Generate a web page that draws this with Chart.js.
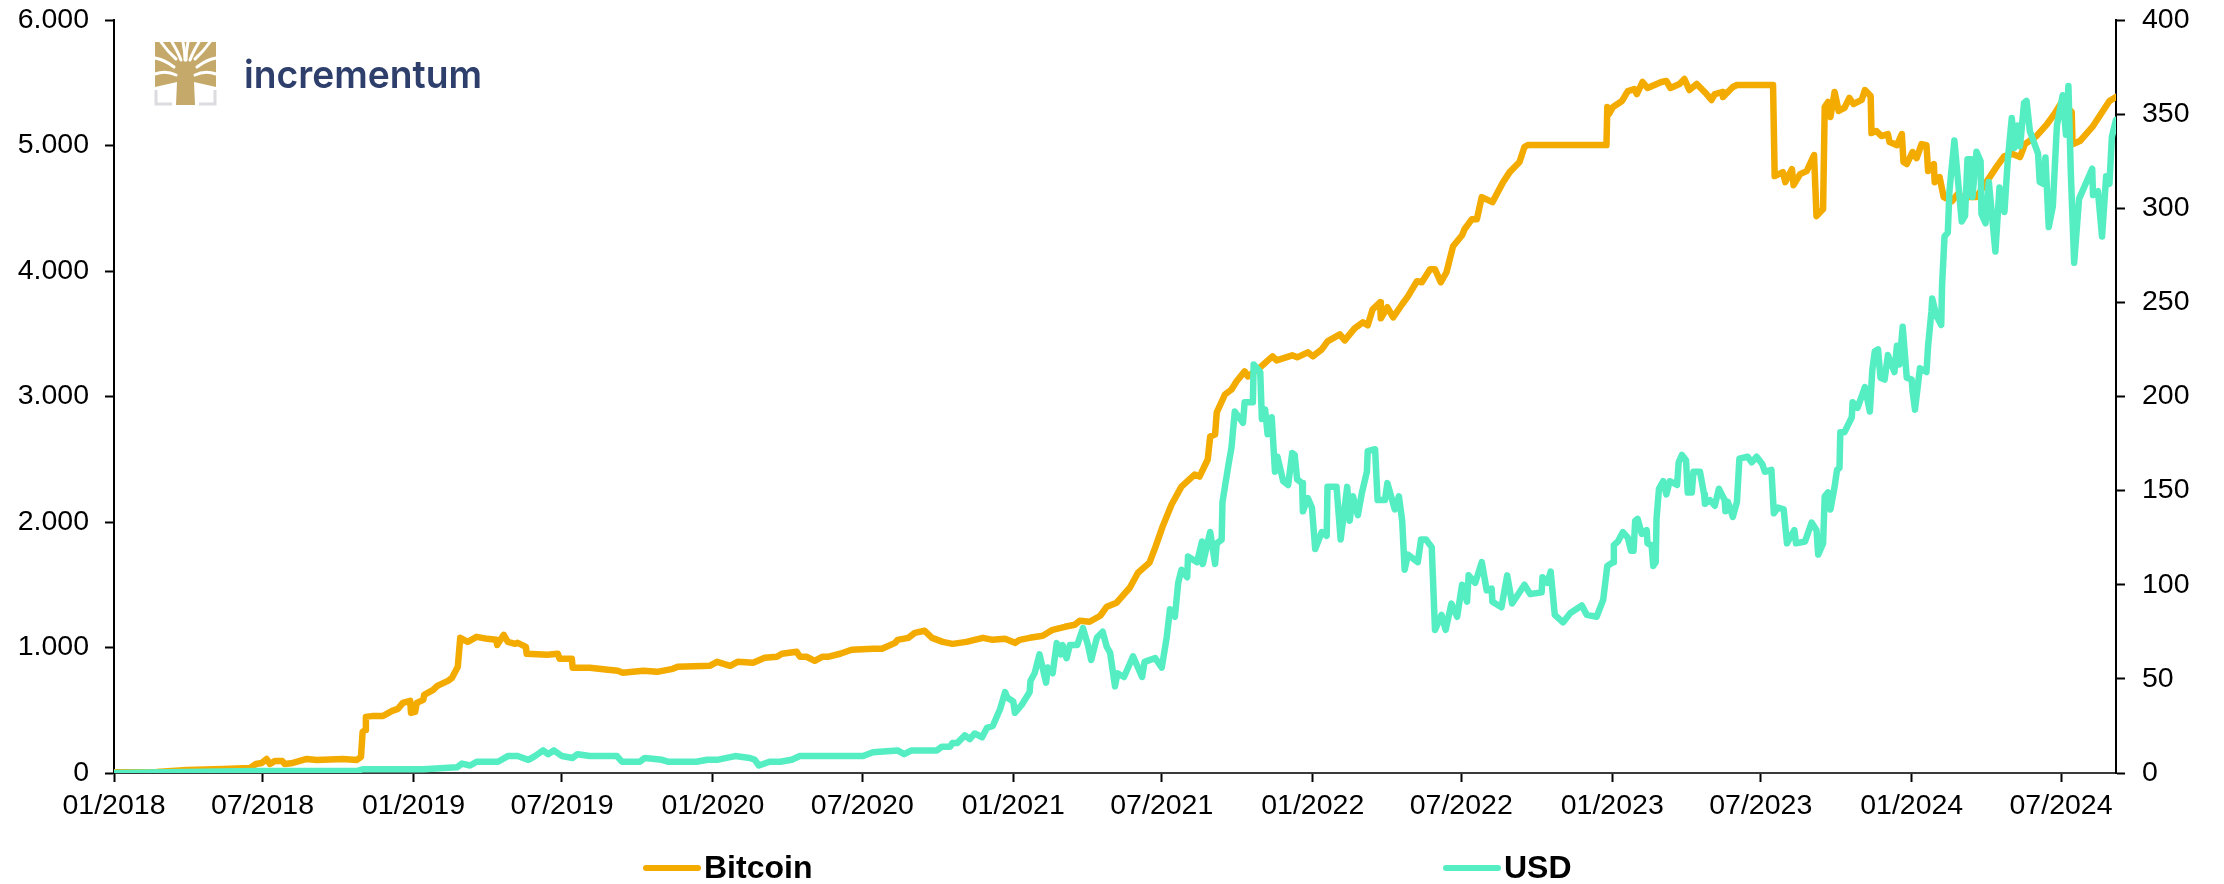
<!DOCTYPE html>
<html>
<head>
<meta charset="utf-8">
<title>Bitcoin vs USD</title>
<script src="https://cdn.jsdelivr.net/npm/chart.js@4"></script>
<style>
    html, body { margin: 0; padding: 0; background: #fff; }
    canvas { display: block; }
</style>
</head>
<body>
<canvas id="btcChart" width="2224" height="884"></canvas>
<script>
// x values are days since 01/01/2018
const xTickDays = [0, 181, 365, 546, 730, 912, 1096, 1277, 1461, 1642, 1826, 2007, 2191, 2373];
const xTickLabels = ["01/2018", "07/2018", "01/2019", "07/2019", "01/2020", "07/2020", "01/2021", "07/2021",
    "01/2022", "07/2022", "01/2023", "07/2023", "01/2024", "07/2024"];
const lastDay = 2440;

const btcDays = [0, 52, 89, 133, 166, 173, 180, 186, 190, 196, 205, 208, 218, 235, 247, 279, 296, 301, 303, 306,
    307, 316, 328, 339, 346, 352, 361, 362, 367, 369, 377, 378, 389, 394, 407, 412, 419, 422, 431, 442,
    455, 466, 467, 475, 480, 489, 492, 502, 503, 528, 541, 543, 558, 559, 580, 602, 614, 620, 645, 662,
    681, 687, 726, 735, 751, 760, 779, 793, 808, 814, 832, 836, 844, 854, 863, 870, 885, 899, 925, 936,
    952, 955, 968, 976, 988, 997, 1010, 1022, 1039, 1059, 1071, 1086, 1098, 1104, 1116, 1132, 1144, 1159, 1171, 1177,
    1189, 1202, 1210, 1222, 1238, 1248, 1262, 1269, 1278, 1289, 1301, 1317, 1323, 1333, 1336, 1342, 1344, 1354, 1362, 1368,
    1378, 1382, 1397, 1405, 1412, 1417, 1436, 1442, 1455, 1461, 1472, 1479, 1494, 1500, 1512, 1522, 1528, 1534, 1543, 1544,
    1552, 1559, 1570, 1577, 1588, 1594, 1604, 1610, 1617, 1624, 1632, 1643, 1646, 1655, 1661, 1667, 1680, 1693, 1701, 1713,
    1719, 1723, 1819, 1820, 1822, 1827, 1838, 1845, 1853, 1856, 1863, 1869, 1886, 1892, 1897, 1908, 1914, 1920, 1929, 1941,
    1947, 1951, 1960, 1961, 1973, 1978, 2022, 2024, 2034, 2037, 2045, 2047, 2055, 2063, 2072, 2075, 2083, 2085, 2089, 2092,
    2097, 2102, 2109, 2115, 2120, 2130, 2134, 2141, 2142, 2148, 2154, 2162, 2164, 2173, 2179, 2181, 2185, 2192, 2197, 2203,
    2209, 2211, 2218, 2219, 2225, 2230, 2240, 2247, 2253, 2270, 2282, 2295, 2304, 2314, 2323, 2329, 2343, 2356, 2365, 2374,
    2386, 2387, 2396, 2412, 2432, 2440];
const btcValues = [5, 8, 24, 32, 40, 72, 80, 112, 72, 96, 96, 72, 80, 112, 104, 112, 104, 128, 327, 343,
    447, 455, 455, 495, 511, 559, 575, 479, 487, 559, 583, 622, 662, 694, 734, 758, 846, 1077, 1045, 1085,
    1069, 1061, 1021, 1101, 1045, 1029, 1037, 1005, 950, 942, 950, 910, 910, 838, 838, 822, 814, 798, 814, 806,
    830, 846, 854, 886, 854, 886, 878, 918, 926, 950, 966, 926, 926, 894, 926, 926, 950, 982, 990, 990,
    1037, 1061, 1077, 1117, 1133, 1077, 1045, 1029, 1045, 1077, 1061, 1069, 1037, 1061, 1077, 1093, 1141, 1165, 1181, 1213,
    1205, 1253, 1325, 1357, 1476, 1596, 1676, 1796, 1963, 2139, 2282, 2378, 2362, 2498, 2681, 2697, 2873, 3016, 3056, 3120,
    3200, 3160, 3232, 3280, 3320, 3288, 3328, 3312, 3352, 3320, 3376, 3439, 3495, 3447, 3543, 3591, 3567, 3695, 3751, 3623,
    3711, 3631, 3735, 3798, 3918, 3910, 4014, 4014, 3910, 3990, 4197, 4285, 4333, 4413, 4413, 4589, 4549, 4708, 4788, 4868,
    4988, 5003, 5003, 5307, 5251, 5307, 5355, 5434, 5450, 5410, 5506, 5458, 5506, 5514, 5458, 5490, 5530, 5442, 5490, 5410,
    5363, 5410, 5426, 5387, 5466, 5482, 5482, 4756, 4788, 4708, 4812, 4684, 4772, 4796, 4924, 4437, 4493, 5307, 5347, 5227,
    5426, 5275, 5299, 5379, 5331, 5363, 5442, 5394, 5099, 5115, 5075, 5091, 5027, 5003, 5091, 4868, 4852, 4948, 4900, 5011,
    5003, 4796, 4852, 4708, 4748, 4589, 4557, 4612, 4589, 4589, 4708, 4836, 4916, 4932, 4908, 5011, 5075, 5171, 5251, 5347,
    5267, 5011, 5035, 5155, 5355, 5387];

const usdDays = [0, 174, 296, 303, 336, 377, 418, 424, 434, 442, 468, 480, 492, 505, 513, 523, 529, 536, 546, 559,
    565, 580, 602, 613, 619, 641, 647, 668, 675, 710, 723, 735, 757, 775, 781, 786, 799, 812, 826, 836,
    857, 864, 913, 925, 955, 963, 972, 1003, 1009, 1019, 1022, 1028, 1037, 1043, 1049, 1058, 1064, 1071, 1080, 1086,
    1089, 1096, 1098, 1106, 1116, 1117, 1122, 1128, 1136, 1138, 1144, 1149, 1154, 1156, 1161, 1165, 1174, 1181, 1187, 1191,
    1198, 1205, 1210, 1214, 1220, 1223, 1231, 1242, 1253, 1256, 1269, 1277, 1283, 1287, 1293, 1297, 1301, 1308, 1309, 1320,
    1326, 1327, 1336, 1342, 1344, 1350, 1351, 1358, 1362, 1366, 1376, 1378, 1388, 1389, 1397, 1399, 1403, 1406, 1411, 1415,
    1418, 1425, 1431, 1436, 1439, 1442, 1448, 1449, 1455, 1460, 1464, 1472, 1478, 1479, 1490, 1495, 1503, 1506, 1510, 1516,
    1521, 1527, 1528, 1537, 1540, 1549, 1552, 1561, 1566, 1570, 1573, 1577, 1589, 1593, 1599, 1606, 1610, 1618, 1623, 1630,
    1637, 1643, 1649, 1651, 1659, 1667, 1673, 1679, 1680, 1691, 1698, 1704, 1719, 1726, 1740, 1741, 1747, 1751, 1756, 1766,
    1775, 1789, 1795, 1807, 1815, 1820, 1827, 1828, 1833, 1839, 1845, 1849, 1852, 1854, 1857, 1862, 1868, 1869, 1874, 1876,
    1879, 1880, 1883, 1888, 1892, 1896, 1905, 1907, 1911, 1916, 1918, 1923, 1925, 1933, 1938, 1939, 1945, 1951, 1956, 1963,
    1964, 1967, 1973, 1978, 1981, 1991, 1996, 2002, 2009, 2012, 2020, 2023, 2028, 2035, 2039, 2048, 2050, 2061, 2069, 2075,
    2077, 2083, 2085, 2089, 2092, 2097, 2100, 2103, 2104, 2109, 2118, 2119, 2125, 2134, 2140, 2143, 2146, 2150, 2153, 2158,
    2162, 2170, 2173, 2176, 2180, 2185, 2191, 2192, 2195, 2201, 2209, 2211, 2215, 2216, 2221, 2227, 2228, 2231, 2235, 2237,
    2243, 2252, 2256, 2259, 2264, 2265, 2270, 2275, 2276, 2281, 2285, 2293, 2298, 2304, 2308, 2313, 2316, 2320, 2323, 2328,
    2331, 2335, 2345, 2347, 2351, 2354, 2358, 2363, 2368, 2375, 2379, 2382, 2385, 2389, 2395, 2411, 2412, 2418, 2423, 2428,
    2432, 2435, 2440];
const usdValues = [0, 1, 1, 2, 2, 2, 3, 5, 4, 6, 6, 9, 9, 7, 9, 12, 10, 12, 9, 8,
    10, 9, 9, 9, 6, 6, 8, 7, 6, 6, 7, 7, 9, 8, 7, 4, 6, 6, 7, 9,
    9, 9, 9, 11, 12, 10, 12, 12, 14, 14, 16, 16, 20, 18, 21, 19, 24, 25, 34, 43,
    40, 38, 32, 36, 43, 49, 53, 63, 48, 56, 53, 69, 63, 68, 61, 68, 68, 77, 68, 60,
    72, 75, 67, 64, 46, 53, 51, 62, 51, 59, 61, 56, 72, 87, 83, 101, 108, 104, 115, 112,
    123, 111, 128, 111, 122, 124, 144, 163, 173, 192, 186, 197, 197, 217, 213, 188, 193, 180, 189, 160,
    168, 155, 153, 170, 169, 156, 154, 139, 146, 141, 119, 128, 126, 152, 152, 124, 152, 134, 147, 137,
    149, 160, 171, 172, 145, 145, 154, 140, 147, 134, 108, 116, 112, 124, 124, 120, 76, 84, 76, 90,
    83, 100, 91, 105, 101, 112, 97, 98, 91, 88, 105, 90, 100, 95, 96, 104, 101, 107, 84, 80,
    85, 89, 84, 83, 92, 110, 112, 121, 123, 128, 125, 118, 118, 134, 135, 127, 129, 122, 121, 110,
    112, 135, 151, 155, 148, 155, 153, 165, 169, 166, 149, 149, 160, 160, 148, 143, 145, 142, 151, 145,
    139, 144, 136, 144, 167, 168, 165, 168, 164, 160, 161, 138, 141, 140, 122, 129, 122, 123, 133, 129,
    116, 122, 147, 149, 140, 152, 161, 162, 181, 181, 189, 197, 194, 205, 192, 214, 224, 225, 210, 209,
    222, 213, 227, 217, 237, 210, 209, 203, 193, 215, 213, 227, 245, 252, 243, 238, 259, 285, 287, 309,
    336, 293, 296, 326, 326, 306, 330, 325, 297, 292, 314, 277, 311, 298, 325, 348, 332, 344, 333, 356,
    357, 341, 329, 314, 313, 327, 290, 301, 344, 360, 339, 365, 318, 271, 305, 321, 307, 309, 285, 317,
    313, 338, 347];

const COLOR_BTC = "#F4AB00";
const COLOR_USD = "#55EEC3";
const FONT_FAMILY = "'Liberation Sans', Arial, sans-serif";
const FONT_SIZE = 28.5;

// the two legend entries sit far apart, so they get drawn by hand
const legendPlugin = {
    id: "wideLegend",
    afterDraw(chart) {
        const ctx = chart.ctx;
        const slots = { Bitcoin: 643, USD: 1443 };
        ctx.save();
        chart.data.datasets.forEach(function (ds) {
            const x = slots[ds.label];
            ctx.strokeStyle = ds.borderColor;
            ctx.lineWidth = 6;
            ctx.lineCap = "round";
            ctx.beginPath();
            ctx.moveTo(x + 3, 868);
            ctx.lineTo(x + 55, 868);
            ctx.stroke();
            ctx.fillStyle = "#000";
            ctx.font = "bold 32px " + FONT_FAMILY;
            ctx.textBaseline = "middle";
            ctx.fillText(ds.label, x + 61, 869);
        });
        ctx.restore();
    }
};

// company logo, top left
const logoPlugin = {
    id: "logo",
    afterDraw(chart) {
        const ctx = chart.ctx;
        ctx.save();

        // grey corners under the tree
        ctx.strokeStyle = "#DCDCE0";
        ctx.lineWidth = 3;
        ctx.beginPath();
        ctx.moveTo(156, 90); ctx.lineTo(156, 104); ctx.lineTo(172, 104);
        ctx.moveTo(215, 90); ctx.lineTo(215, 104); ctx.lineTo(199, 104);
        ctx.stroke();

        // crown and trunk in one shape, the branches are cut out in white
        ctx.fillStyle = "#C4A96B";
        ctx.beginPath();
        ctx.moveTo(155, 42);
        ctx.lineTo(216, 42);
        ctx.lineTo(216, 87);
        ctx.lineTo(194, 82);
        ctx.lineTo(195, 105);
        ctx.lineTo(176, 105);
        ctx.lineTo(177, 82);
        ctx.lineTo(155, 87);
        ctx.closePath();
        ctx.fill();
        ctx.strokeStyle = "#fff";
        ctx.lineWidth = 3;
        ctx.lineCap = "round";
        const gaps = [
            [176, 75, 166, 70, 155, 74],
            [174, 67, 165, 60, 155, 58],
            [176, 59, 168, 52, 161, 42],
            [181, 60, 178, 52, 172, 42],
            [185, 60, 185, 52, 183, 42]
        ];
        gaps.forEach(function (g) {
            ctx.beginPath();
            ctx.moveTo(g[0], g[1]);
            ctx.quadraticCurveTo(g[2], g[3], g[4], g[5]);
            ctx.stroke();
            // same branch mirrored around the trunk
            ctx.beginPath();
            ctx.moveTo(371 - g[0], g[1]);
            ctx.quadraticCurveTo(371 - g[2], g[3], 371 - g[4], g[5]);
            ctx.stroke();
        });

        ctx.fillStyle = "#2E3F6B";
        ctx.font = "600 39px Inter, 'Noto Sans', sans-serif";
        ctx.textBaseline = "alphabetic";
        ctx.fillText("incrementum", 244, 88, 238);
        ctx.restore();
    }
};

function dotThousands(value) {
    return String(value).replace(/\B(?=(\d{3})+$)/g, ".");
}

function getConfigChart() {
    const tickFont = { family: FONT_FAMILY, size: FONT_SIZE };

    return {
        type: "line",
        data: {
            datasets: [
                {
                    label: "Bitcoin",
                    data: btcDays.map((d, i) => ({ x: d, y: btcValues[i] })),
                    yAxisID: "y",
                    borderColor: COLOR_BTC,
                    borderWidth: 6.5,
                    order: 1
                },
                {
                    label: "USD",
                    data: usdDays.map((d, i) => ({ x: d, y: usdValues[i] })),
                    yAxisID: "y1",
                    borderColor: COLOR_USD,
                    borderWidth: 6.5,
                    order: 0
                }
            ]
        },
        options: {
            responsive: false,
            animation: false,
            layout: { padding: { top: 20 } },
            elements: {
                point: { radius: 0 },
                line: { tension: 0, borderJoinStyle: "round", borderCapStyle: "round" }
            },
            plugins: { legend: { display: false }, tooltip: { enabled: false } },
            scales: {
                x: {
                    type: "linear",
                    min: 0,
                    max: lastDay,
                    afterBuildTicks: function (scale) {
                        scale.ticks = xTickDays.map(d => ({ value: d }));
                    },
                    afterFit: function (scale) { scale.height = 111; },
                    border: { color: "#3a3a3a", width: 2 },
                    grid: { drawOnChartArea: false, tickLength: 9, tickColor: "#000", tickWidth: 2 },
                    ticks: {
                        color: "#000",
                        font: tickFont,
                        padding: 7,
                        autoSkip: false,
                        maxRotation: 0,
                        callback: function (value, index) { return xTickLabels[index]; }
                    }
                },
                y: {
                    position: "left",
                    min: 0,
                    max: 6000,
                    // drop the room chart.js keeps for half a tick label, or the plot starts too low
                    afterFit: function (scale) { scale.width = 114; scale.paddingTop = 0; scale.paddingBottom = 0; },
                    border: { color: "#000", width: 2 },
                    grid: { drawOnChartArea: false, tickLength: 9, tickColor: "#000", tickWidth: 2 },
                    ticks: { color: "#000", font: tickFont, padding: 16, stepSize: 1000, callback: dotThousands }
                },
                y1: {
                    position: "right",
                    min: 0,
                    max: 400,
                    afterFit: function (scale) { scale.width = 108; scale.paddingTop = 0; scale.paddingBottom = 0; },
                    border: { color: "#000", width: 2 },
                    grid: { drawOnChartArea: false, tickLength: 9, tickColor: "#000", tickWidth: 2 },
                    ticks: { color: "#000", font: tickFont, padding: 17, stepSize: 50 }
                }
            }
        },
        plugins: [legendPlugin, logoPlugin]
    };
}

new Chart(document.getElementById("btcChart").getContext("2d"), getConfigChart());
</script>
</body>
</html>
